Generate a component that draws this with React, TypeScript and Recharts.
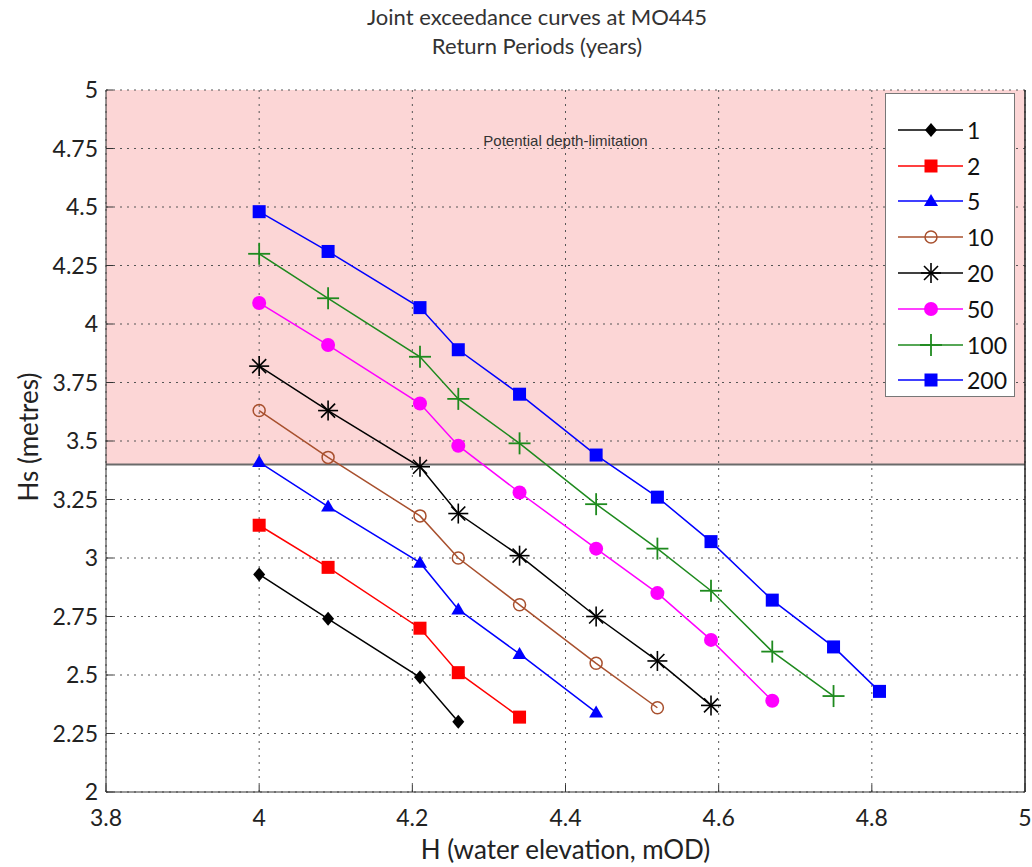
import React from 'react';
import {
  CartesianGrid,
  Line,
  LineChart,
  ReferenceArea,
  ReferenceLine,
  XAxis,
  YAxis,
} from 'recharts';

// water elevation (mOD) at which the joint exceedance points are given
const H_VALUES = [4, 4.09, 4.21, 4.26, 4.34, 4.44, 4.52, 4.59, 4.67, 4.75, 4.81];
const RETURN_PERIODS = ['1', '2', '5', '10', '20', '50', '100', '200'];

// Hs (metres) per return period, read left to right
const HS_1 = [2.93, 2.74, 2.49, 2.3];
const HS_2 = [3.14, 2.96, 2.7, 2.51, 2.32];
const HS_5 = [3.41, 3.22, 2.98, 2.78, 2.59, 2.34];
const HS_10 = [3.63, 3.43, 3.18, 3.0, 2.8, 2.55, 2.36];
const HS_20 = [3.82, 3.63, 3.39, 3.19, 3.01, 2.75, 2.56, 2.37];
const HS_50 = [4.09, 3.91, 3.66, 3.48, 3.28, 3.04, 2.85, 2.65, 2.39];
const HS_100 = [4.3, 4.11, 3.86, 3.68, 3.49, 3.23, 3.04, 2.86, 2.6, 2.41];
const HS_200 = [4.48, 4.31, 4.07, 3.89, 3.7, 3.44, 3.26, 3.07, 2.82, 2.62, 2.43];

const X_TICKS = [3.8, 4, 4.2, 4.4, 4.6, 4.8, 5];
const Y_TICKS = [2, 2.25, 2.5, 2.75, 3, 3.25, 3.5, 3.75, 4, 4.25, 4.5, 4.75, 5];
const DEPTH_LIMIT = 3.4;

type MarkerKind = 'diamond' | 'square' | 'triangle' | 'ring' | 'star' | 'dot' | 'plus';

const SERIES: { values: number[]; color: string; marker: MarkerKind }[] = [
  { values: HS_1, color: '#000000', marker: 'diamond' },
  { values: HS_2, color: '#ff0000', marker: 'square' },
  { values: HS_5, color: '#0000ff', marker: 'triangle' },
  { values: HS_10, color: '#a8502e', marker: 'ring' },
  { values: HS_20, color: '#000000', marker: 'star' },
  { values: HS_50, color: '#ff00ff', marker: 'dot' },
  { values: HS_100, color: '#1e8a1e', marker: 'plus' },
  { values: HS_200, color: '#0000ff', marker: 'square' },
];

const FONT = 'Lato, "Open Sans", sans-serif';

function Marker({ kind, cx, cy, color }: { kind: MarkerKind; cx: number; cy: number; color: string }) {
  switch (kind) {
    case 'diamond':
      return <polygon points={`${cx},${cy - 7} ${cx + 6},${cy} ${cx},${cy + 7} ${cx - 6},${cy}`} fill={color} />;
    case 'square':
      return <rect x={cx - 6.5} y={cy - 6.5} width={13} height={13} fill={color} />;
    case 'triangle':
      return <polygon points={`${cx},${cy - 7} ${cx + 7},${cy + 5} ${cx - 7},${cy + 5}`} fill={color} />;
    case 'ring':
      return <circle cx={cx} cy={cy} r={6} fill="none" stroke={color} strokeWidth={1.5} />;
    case 'dot':
      return <circle cx={cx} cy={cy} r={7} fill={color} />;
    case 'plus':
      return (
        <g stroke={color} strokeWidth={1.8}>
          <line x1={cx - 11} y1={cy} x2={cx + 11} y2={cy} />
          <line x1={cx} y1={cy - 11} x2={cx} y2={cy + 11} />
        </g>
      );
    case 'star':
      return (
        <g stroke={color} strokeWidth={1.6}>
          <line x1={cx - 10} y1={cy} x2={cx + 10} y2={cy} />
          <line x1={cx} y1={cy - 10} x2={cx} y2={cy + 10} />
          <line x1={cx - 7} y1={cy - 7} x2={cx + 7} y2={cy + 7} />
          <line x1={cx - 7} y1={cy + 7} x2={cx + 7} y2={cy - 7} />
        </g>
      );
  }
  return null;
}

function LegendBox() {
  return (
    <div
      style={{
        position: 'absolute',
        left: 885,
        top: 93,
        width: 130,
        height: 304,
        background: '#fff',
        border: '1px solid #777',
        boxSizing: 'border-box',
        paddingTop: 18,
      }}
    >
      {RETURN_PERIODS.map((label, i) => (
        <div key={label} style={{ display: 'flex', alignItems: 'center', height: 35.8 }}>
          <svg width={78} height={30} style={{ flex: 'none' }}>
            <line x1={12} y1={15} x2={77} y2={15} stroke={SERIES[i].color} strokeWidth={1.5} />
            <Marker kind={SERIES[i].marker} cx={45} cy={15} color={SERIES[i].color} />
          </svg>
          <span style={{ fontFamily: FONT, fontSize: 23, color: '#111', marginLeft: 3 }}>{label}</span>
        </div>
      ))}
    </div>
  );
}

export default function App() {
  return (
    <div style={{ position: 'absolute', left: 0, top: 0, width: 1032, height: 867, background: '#fff' }}>
      <div
        style={{
          position: 'absolute',
          left: 0,
          width: 1074,
          top: 2,
          textAlign: 'center',
          fontFamily: FONT,
          fontSize: 22,
          lineHeight: '29px',
          color: '#333',
        }}
      >
        <div>Joint exceedance curves at MO445</div>
        <div>Return Periods (years)</div>
      </div>
      <LineChart width={1032} height={867} margin={{ top: 90, right: 7, bottom: 45, left: 0 }}>
        <ReferenceArea
          x1={3.8}
          x2={5}
          y1={DEPTH_LIMIT}
          y2={5}
          fill="#fcd6d6"
          fillOpacity={1}
          stroke="none"
          zIndex={-200}
          label={{
            value: 'Potential depth-limitation',
            position: 'insideTop',
            offset: 45,
            fill: '#333',
            fontSize: 15,
            fontFamily: '"Liberation Sans", Arial, sans-serif',
          }}
        />
        <CartesianGrid stroke="#555" strokeDasharray="2 5" />
        <ReferenceLine y={DEPTH_LIMIT} stroke="#6a6a6a" strokeWidth={2} />
        <ReferenceLine x={5} stroke="#222" strokeWidth={1.5} />
        <XAxis
          type="number"
          dataKey="h"
          domain={[3.8, 5]}
          ticks={X_TICKS}
          height={30}
          allowDataOverflow
          stroke="#333"
          tickSize={-7}
          tickMargin={25}
          tick={{ fill: '#222', fontSize: 23, fontFamily: FONT }}
        />
        <YAxis
          type="number"
          domain={[2, 5]}
          ticks={Y_TICKS}
          width={106}
          allowDataOverflow
          stroke="#333"
          tickSize={-7}
          tickMargin={15}
          tick={{ fill: '#222', fontSize: 23, fontFamily: FONT }}
        />
        {SERIES.map((s, i) => (
          <Line
            key={RETURN_PERIODS[i]}
            name={RETURN_PERIODS[i]}
            data={s.values.map((hs, j) => ({ h: H_VALUES[j], hs }))}
            dataKey="hs"
            stroke={s.color}
            strokeWidth={1.5}
            isAnimationActive={false}
            dot={(p: any) => (
              <Marker key={`${RETURN_PERIODS[i]}-${p.index}`} kind={s.marker} cx={p.cx} cy={p.cy} color={s.color} />
            )}
          />
        ))}
      </LineChart>
      <div
        style={{
          position: 'absolute',
          left: 106,
          width: 919,
          top: 833,
          textAlign: 'center',
          fontFamily: FONT,
          fontSize: 26,
          color: '#222',
        }}
      >
        H (water elevation, mOD)
      </div>
      <div
        style={{
          position: 'absolute',
          left: 28,
          top: 437,
          transform: 'translate(-50%, -50%) rotate(-90deg)',
          whiteSpace: 'nowrap',
          fontFamily: FONT,
          fontSize: 26,
          color: '#222',
        }}
      >
        Hs (metres)
      </div>
      <LegendBox />
    </div>
  );
}
